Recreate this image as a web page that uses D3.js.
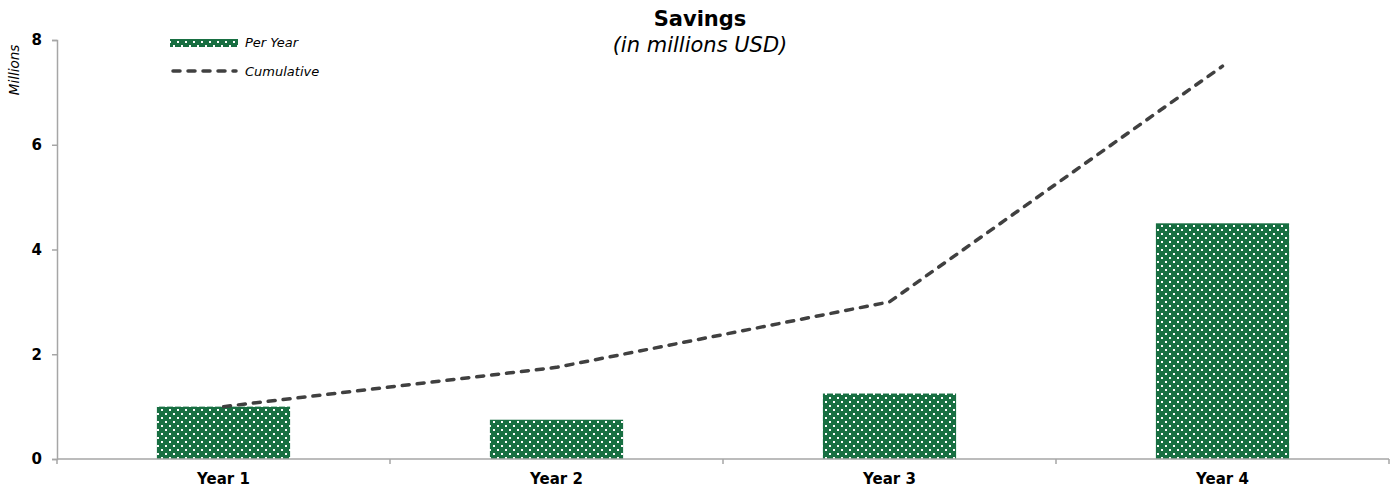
<!DOCTYPE html>
<html>
<head>
<meta charset="utf-8">
<script src="https://cdn.jsdelivr.net/npm/d3@7"></script>
<style>
  body { margin: 0; background: #fff; }
  text { font-family: "DejaVu Sans", Verdana, sans-serif; }
</style>
</head>
<body>
<div class="chart"></div>
<script>
// data
var years = ['Year 1', 'Year 2', 'Year 3', 'Year 4'];
var perYear = [1.0, 0.75, 1.25, 4.5];
var cumulative = [1.0, 1.75, 3.0, 7.5];
var yTicks = [0, 2, 4, 6, 8];

var width = 1390, height = 488;
var plotLeft = 57, plotRight = 1389, plotTop = 40, plotBottom = 459;

var svg = d3.select('.chart').append('svg')
            .attr('width', width)
            .attr('height', height);

// dotted green fill
var defs = svg.append('defs');
var pat = defs.append('pattern')
              .attr('id', 'dots')
              .attr('patternUnits', 'userSpaceOnUse')
              .attr('width', 8)
              .attr('height', 8);
pat.append('rect').attr('width', 8).attr('height', 8).attr('fill', '#186f42');
pat.append('rect').attr('x', 1).attr('y', 1).attr('width', 2).attr('height', 2).attr('fill', '#fff');
pat.append('rect').attr('x', 5).attr('y', 5).attr('width', 2).attr('height', 2).attr('fill', '#fff');

var x = d3.scaleBand().domain(years).range([plotLeft, plotRight]).paddingInner(0).paddingOuter(0);
var y = d3.scaleLinear().domain([0, 8]).range([plotBottom, plotTop]);

// bars
svg.selectAll('.bar')
   .data(years)
   .enter()
   .append('rect')
   .attr('class', 'bar')
   .attr('x', function(d) { return x(d) + x.bandwidth() * 0.3; })
   .attr('width', x.bandwidth() * 0.4)
   .attr('y', function(d, i) { return y(perYear[i]); })
   .attr('height', function(d, i) { return y(0) - y(perYear[i]); })
   .attr('fill', 'url(#dots)');

// y axis
var yAxis = svg.append('g')
               .attr('transform', 'translate(' + plotLeft + ',0)')
               .call(d3.axisLeft(y).tickValues(yTicks).tickSize(5).tickPadding(10).tickFormat(d3.format('d')));
yAxis.select('.domain').attr('stroke', '#a6a6a6').attr('stroke-width', 1.5);
yAxis.selectAll('.tick line').attr('stroke', '#a6a6a6').attr('stroke-width', 1.5);
yAxis.selectAll('.tick text')
     .attr('font-size', 15).attr('font-weight', 'bold').attr('fill', '#000')
     .style('font-family', '"DejaVu Sans", Verdana, sans-serif');

// x axis, ticks at band edges
var xAxis = svg.append('g').attr('transform', 'translate(0,' + plotBottom + ')');
xAxis.append('line')
     .attr('x1', plotLeft).attr('x2', plotRight)
     .attr('stroke', '#a6a6a6').attr('stroke-width', 1.5);
var edges = years.map(function(d) { return x(d); }).concat([plotRight]);
xAxis.selectAll('.xt')
     .data(edges)
     .enter()
     .append('line')
     .attr('x1', function(d) { return d; }).attr('x2', function(d) { return d; })
     .attr('y1', 0).attr('y2', 5)
     .attr('stroke', '#a6a6a6').attr('stroke-width', 1.5);
xAxis.selectAll('.xl')
     .data(years)
     .enter()
     .append('text')
     .attr('x', function(d) { return x(d) + x.bandwidth() / 2; })
     .attr('y', 25)
     .attr('text-anchor', 'middle')
     .attr('font-size', 15).attr('font-weight', 'bold')
     .text(function(d) { return d; });

// cumulative line
var line = d3.line()
             .x(function(d, i) { return x(years[i]) + x.bandwidth() / 2; })
             .y(function(d) { return y(d); });
svg.append('path')
   .datum(cumulative)
   .attr('d', line)
   .attr('fill', 'none')
   .attr('stroke', '#404040')
   .attr('stroke-width', 3.5)
   .attr('stroke-linecap', 'round')
   .attr('stroke-dasharray', '7,8');

// titles
svg.append('text')
   .attr('x', 700).attr('y', 26)
   .attr('text-anchor', 'middle')
   .attr('font-size', 21).attr('font-weight', 'bold')
   .text('Savings');
svg.append('text')
   .attr('x', 700).attr('y', 52)
   .attr('text-anchor', 'middle')
   .attr('font-size', 21).attr('font-style', 'italic')
   .text('(in millions USD)');

// y axis title
svg.append('text')
   .attr('transform', 'translate(19,70) rotate(-90)')
   .attr('text-anchor', 'middle')
   .attr('font-size', 13.5).attr('font-style', 'italic')
   .text('Millions');

// legend
var legend = svg.append('g');
legend.append('rect')
      .attr('x', 170).attr('y', 39).attr('width', 68).attr('height', 8)
      .attr('fill', 'url(#dots)');
legend.append('text')
      .attr('x', 245).attr('y', 47)
      .attr('font-size', 13).attr('font-style', 'italic')
      .text('Per Year');
legend.append('line')
      .attr('x1', 173).attr('x2', 236).attr('y1', 71).attr('y2', 71)
      .attr('stroke', '#404040').attr('stroke-width', 3.5)
      .attr('stroke-linecap', 'round')
      .attr('stroke-dasharray', '7,8');
legend.append('text')
      .attr('x', 245).attr('y', 76)
      .attr('font-size', 13).attr('font-style', 'italic')
      .text('Cumulative');
</script>
</body>
</html>
